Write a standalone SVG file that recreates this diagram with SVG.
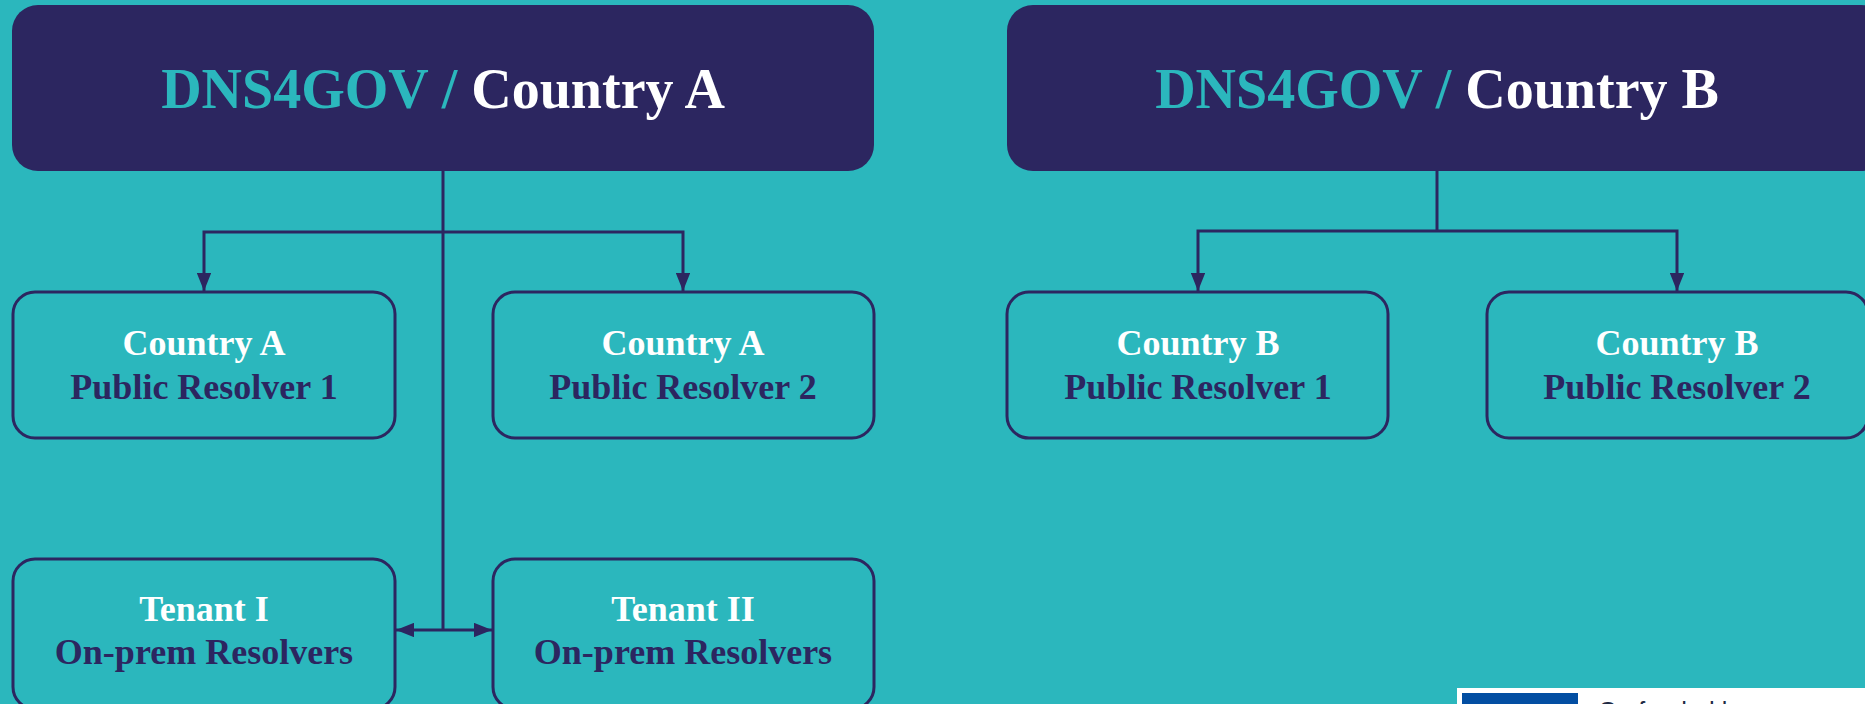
<svg xmlns="http://www.w3.org/2000/svg" width="1865" height="704" viewBox="0 0 1865 704">
<style>
.hdr{fill:#2C2660}
.box{fill:#2BB7BD;stroke:#2C2660;stroke-width:3}
.t{font-family:"Liberation Serif","Times New Roman",serif;font-weight:bold;text-anchor:middle}
.h{font-size:56px}
.s{font-size:36px}
.w{fill:#FFFFFF}
.n{fill:#2C2660}
.c{fill:#2BB7BD}
.ln{fill:none;stroke:#2C2660;stroke-width:3}
</style>
<defs>
<marker id="ah" viewBox="0 0 10 8" refX="10" refY="4" markerWidth="6" markerHeight="4.8" orient="auto" markerUnits="strokeWidth">
<path d="M0,0 L10,4 L0,8 z" fill="#2C2660"/>
</marker>
<marker id="ahs" viewBox="0 0 10 8" refX="0" refY="4" markerWidth="6" markerHeight="4.8" orient="auto" markerUnits="strokeWidth">
<path d="M10,0 L0,4 L10,8 z" fill="#2C2660"/>
</marker>
</defs>
<rect width="1865" height="704" fill="#2BB7BD"/>

<g id="connectors">
<path class="ln" d="M443,171 V630"/>
<path class="ln" d="M443,232 H204 V291" marker-end="url(#ah)"/>
<path class="ln" d="M443,232 H683 V291" marker-end="url(#ah)"/>
<path class="ln" d="M396,630 H492" marker-start="url(#ahs)" marker-end="url(#ah)"/>
<path class="ln" d="M1437,171 V231"/>
<path class="ln" d="M1437,231 H1198 V291" marker-end="url(#ah)"/>
<path class="ln" d="M1437,231 H1677 V291" marker-end="url(#ah)"/>
</g>

<g id="dns4gov-a">
<rect class="hdr" x="12" y="5" width="862" height="166" rx="26"/>
<text class="t h" x="443" y="108"><tspan class="c">DNS4GOV / </tspan><tspan class="w">Country A</tspan></text>
</g>
<g id="dns4gov-b">
<rect class="hdr" x="1007" y="5" width="880" height="166" rx="26"/>
<text class="t h" x="1437" y="108"><tspan class="c">DNS4GOV / </tspan><tspan class="w">Country B</tspan></text>
</g>

<g id="a-pr1">
<rect class="box" x="13" y="292" width="382" height="146" rx="22"/>
<text class="t s w" x="204" y="355">Country A</text>
<text class="t s n" x="204" y="399">Public Resolver 1</text>
</g>
<g id="a-pr2">
<rect class="box" x="493" y="292" width="381" height="146" rx="22"/>
<text class="t s w" x="683" y="355">Country A</text>
<text class="t s n" x="683" y="399">Public Resolver 2</text>
</g>
<g id="b-pr1">
<rect class="box" x="1007" y="292" width="381" height="146" rx="22"/>
<text class="t s w" x="1198" y="355">Country B</text>
<text class="t s n" x="1198" y="399">Public Resolver 1</text>
</g>
<g id="b-pr2">
<rect class="box" x="1487" y="292" width="381" height="146" rx="22"/>
<text class="t s w" x="1677" y="355">Country B</text>
<text class="t s n" x="1677" y="399">Public Resolver 2</text>
</g>
<g id="tenant-1">
<rect class="box" x="13" y="559" width="382" height="150" rx="22"/>
<text class="t s w" x="204" y="621">Tenant I</text>
<text class="t s n" x="204" y="664">On-prem Resolvers</text>
</g>
<g id="tenant-2">
<rect class="box" x="493" y="559" width="381" height="150" rx="22"/>
<text class="t s w" x="683" y="621">Tenant II</text>
<text class="t s n" x="683" y="664">On-prem Resolvers</text>
</g>

<g id="eu-logo">
<rect x="1457" y="688" width="420" height="20" fill="#FFFFFF"/>
<rect x="1462" y="693" width="116" height="15" fill="#034EA2"/>
<text x="1598" y="720" font-family="Liberation Sans, Arial, sans-serif" font-size="25" fill="#1F2A44">Co-funded by</text>
</g>
</svg>
